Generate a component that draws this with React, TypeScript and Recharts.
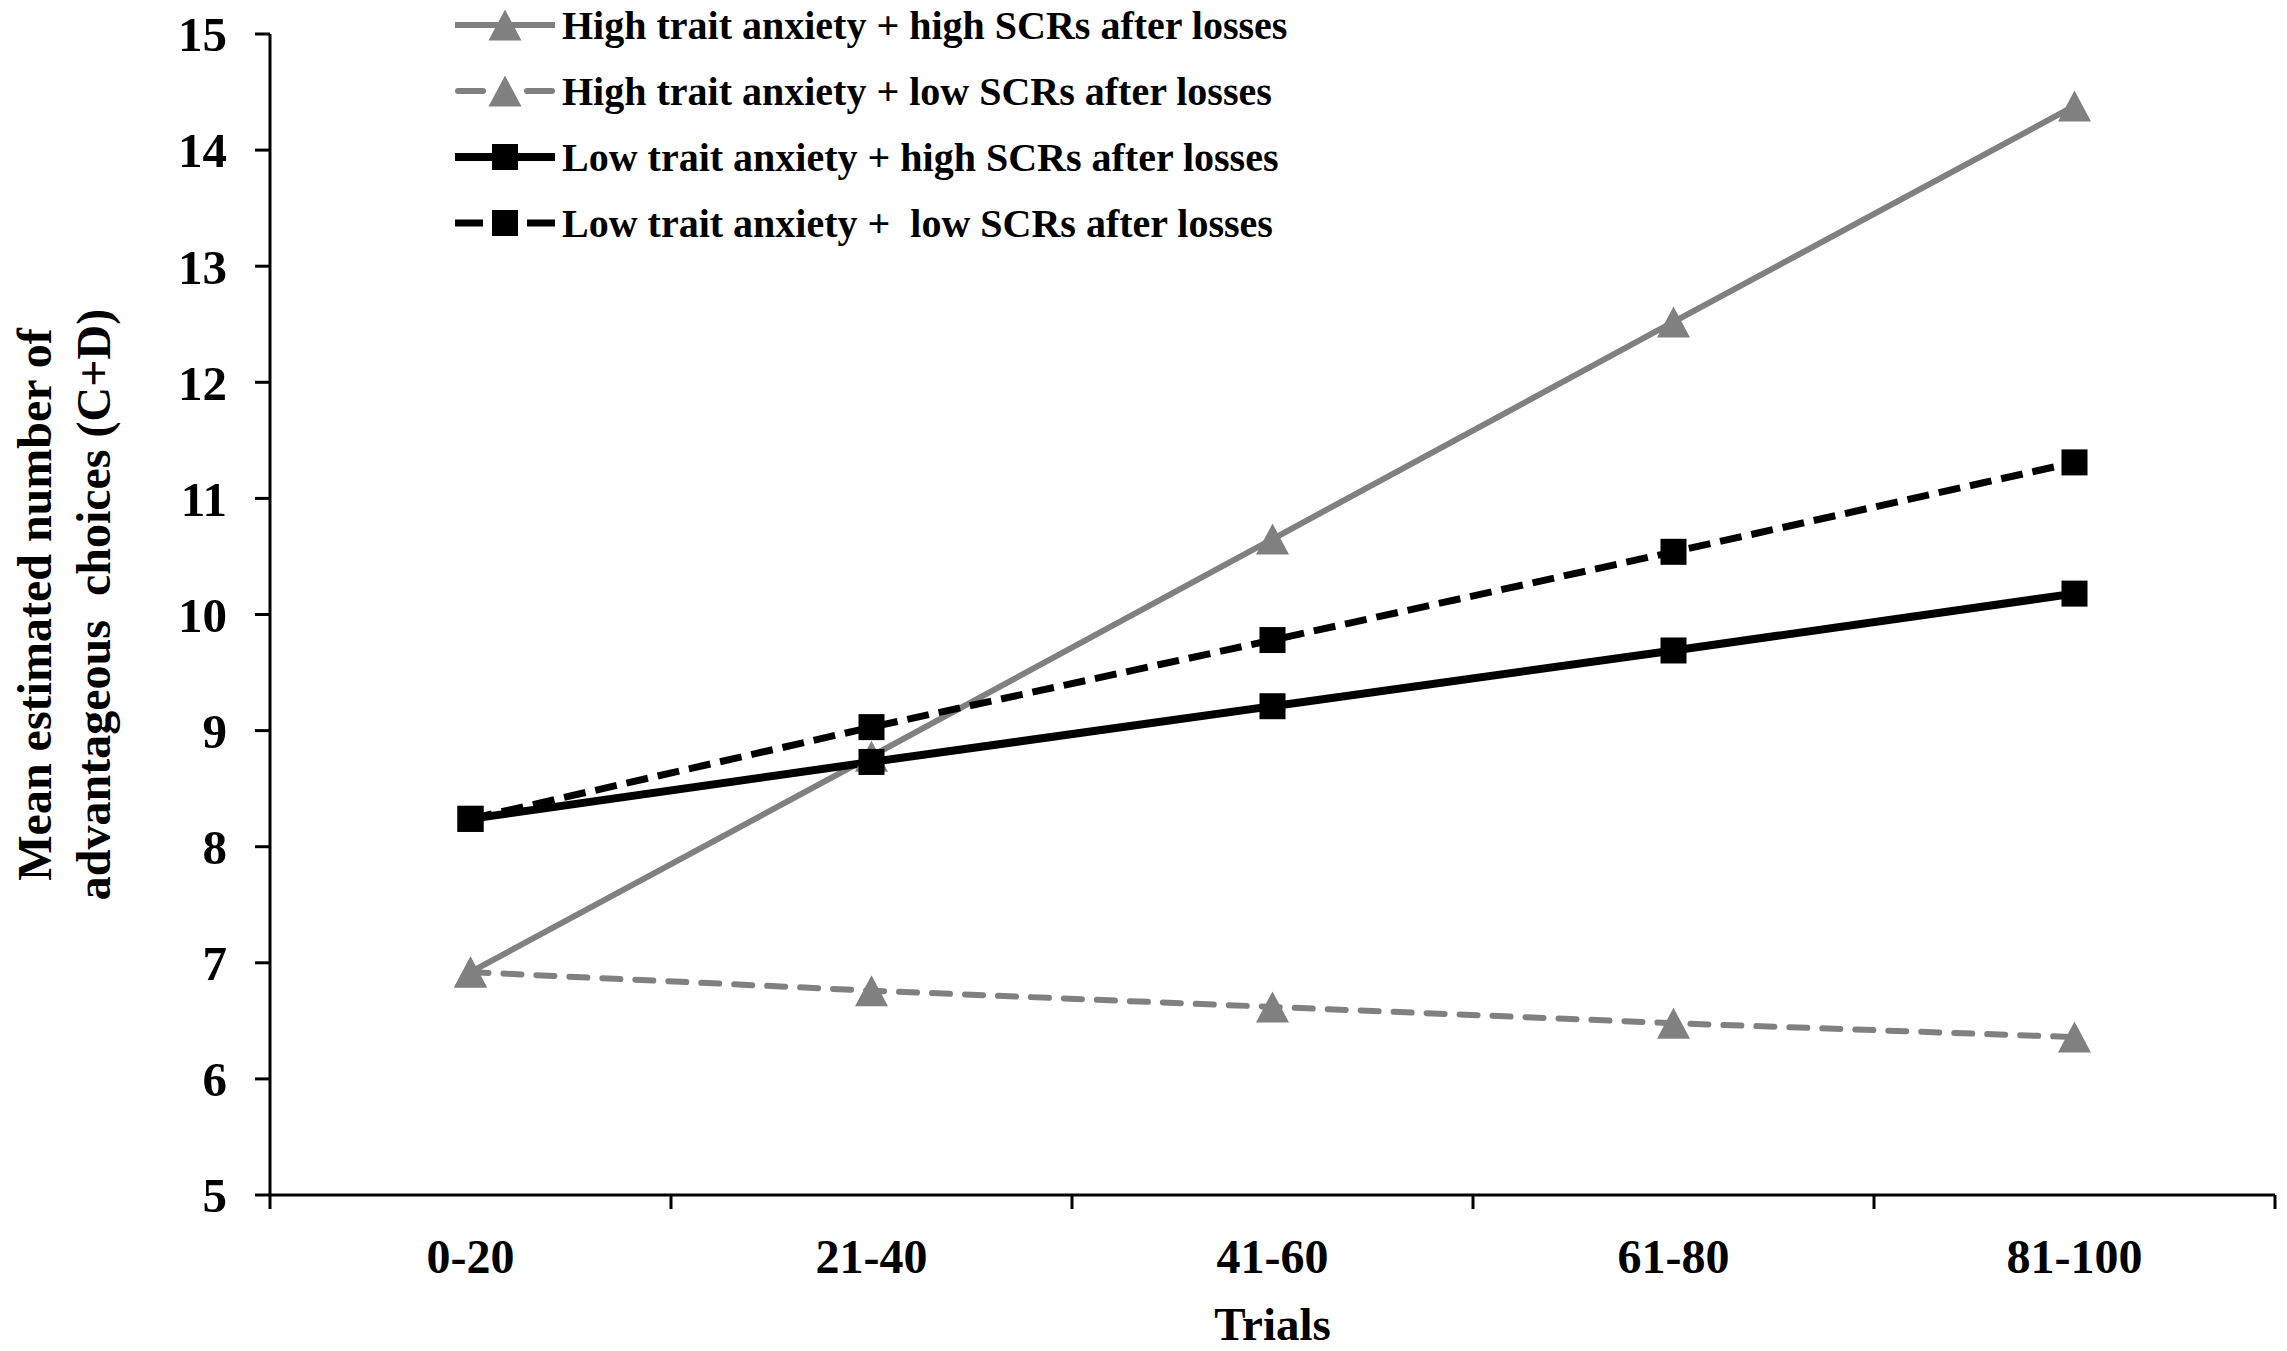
import React from "react";
import { LineChart, Line, XAxis, YAxis, Legend, Label } from "recharts";

const trials = ["0-20", "21-40", "41-60", "61-80", "81-100"];
const highAnxHighScr = [6.92, 8.78, 10.65, 12.52, 14.38];
const highAnxLowScr = [6.92, 6.76, 6.62, 6.48, 6.36];
const lowAnxHighScr = [8.24, 8.73, 9.21, 9.69, 10.18];
const lowAnxLowScr = [8.24, 9.03, 9.78, 10.54, 11.31];
const yTicks = [5, 6, 7, 8, 9, 10, 11, 12, 13, 14, 15];

const GRAY = "#808080";
const FONT = '"Liberation Serif", "Times New Roman", serif';
const X_TICK_SIZE = 14;
const X_TICK_MARGIN = 30;

const data = trials.map((t, i) => ({
  trial: t,
  hh: highAnxHighScr[i],
  hl: highAnxLowScr[i],
  lh: lowAnxHighScr[i],
  ll: lowAnxLowScr[i],
}));

type Series = {
  key: string;
  label: string;
  color: string;
  width: number;
  dash?: string;
  cap?: "butt" | "round";
  marker: "triangle" | "square";
};

const series: Series[] = [
  { key: "hh", label: "High trait anxiety + high SCRs after losses", color: GRAY, width: 6, marker: "triangle" },
  { key: "hl", label: "High trait anxiety + low SCRs after losses", color: GRAY, width: 6, dash: "18 15", cap: "round", marker: "triangle" },
  { key: "lh", label: "Low trait anxiety + high SCRs after losses", color: "#000", width: 8, marker: "square" },
  { key: "ll", label: "Low trait anxiety +  low SCRs after losses", color: "#000", width: 7, dash: "22 10", marker: "square" },
];

function marker(shape: string, cx: number, cy: number, color: string, key?: string | number) {
  if (shape === "triangle") {
    return (
      <path
        key={key}
        d={`M${cx},${cy - 15.5} L${cx + 16.5},${cy + 15.5} L${cx - 16.5},${cy + 15.5} Z`}
        fill={color}
      />
    );
  }
  return <rect key={key} x={cx - 13} y={cy - 13} width={26} height={26} fill={color} />;
}

// category label at band centre, tick marks at band edges
const TrialTick = (props: any) => {
  const { x, y, payload, index, visibleTicksCount } = props;
  const half = payload.offset || 0;
  const axisY = y - X_TICK_SIZE - X_TICK_MARGIN;
  const isLast = index === (visibleTicksCount ?? trials.length) - 1;
  return (
    <g>
      <line x1={x - half} y1={axisY} x2={x - half} y2={axisY + X_TICK_SIZE} stroke="#000" strokeWidth={3} />
      {isLast && (
        <line x1={x + half} y1={axisY} x2={x + half} y2={axisY + X_TICK_SIZE} stroke="#000" strokeWidth={3} />
      )}
      <text
        x={x}
        y={y}
        dy="0.71em"
        textAnchor="middle"
        fontSize={48}
        fontWeight={700}
        fontFamily={FONT}
        fill="#000"
      >
        {payload.value}
      </text>
    </g>
  );
};

const LegendBox = () => (
  <div style={{ fontFamily: FONT, fontWeight: 700, fontSize: 40, color: "#000" }}>
    {series.map((s) => (
      <div key={s.key} style={{ display: "flex", alignItems: "center", height: 66 }}>
        <svg width={110} height={40} style={{ display: "block" }}>
          {s.dash ? (
            <g stroke={s.color} strokeWidth={s.width} strokeLinecap={s.cap || "butt"}>
              <line x1={s.cap === "round" ? 6 : 3} y1={20} x2={31} y2={20} />
              <line x1={75} y1={20} x2={s.cap === "round" ? 100 : 103} y2={20} />
            </g>
          ) : (
            <line x1={3} y1={20} x2={103} y2={20} stroke={s.color} strokeWidth={s.width} />
          )}
          {marker(s.marker, 53, 20, s.color)}
        </svg>
        <span style={{ whiteSpace: "pre" }}>{s.label}</span>
      </div>
    ))}
  </div>
);

const YLabel = (props: any) => {
  const vb = props.viewBox || { x: 0, y: 34, width: 270, height: 1161 };
  const cy = vb.y + vb.height / 2 - 10;
  const x1 = vb.x + 34;
  const x2 = vb.x + 93;
  return (
    <g fontFamily={FONT} fontWeight={700} fontSize={48} fill="#000">
      <text x={x1} y={cy} transform={`rotate(-90 ${x1} ${cy})`} textAnchor="middle" dominantBaseline="central">
        Mean estimated number of
      </text>
      <text
        x={x2}
        y={cy}
        transform={`rotate(-90 ${x2} ${cy})`}
        textAnchor="middle"
        dominantBaseline="central"
        style={{ whiteSpace: "pre" }}
      >
        {"advantageous  choices (C+D)"}
      </text>
    </g>
  );
};

export default function App() {
  return (
    <div style={{ width: 2287, height: 1351, background: "#fff" }}>
      <style>{"body{margin:0;background:#fff}"}</style>
      <LineChart width={2287} height={1351} data={data} margin={{ top: 34, right: 12, left: 0, bottom: 0 }}>
        <XAxis
          dataKey="trial"
          scale="band"
          interval={0}
          tickLine={false}
          axisLine={{ stroke: "#000", strokeWidth: 3 }}
          tick={<TrialTick />}
          tickSize={X_TICK_SIZE}
          tickMargin={X_TICK_MARGIN}
          height={156}
        >
          <Label value="Trials" position="insideBottom" offset={11} fontSize={47} fontWeight={700} fontFamily={FONT} fill="#000" />
        </XAxis>
        <YAxis
          domain={[5, 15]}
          ticks={yTicks}
          interval={0}
          width={270}
          tickSize={15}
          tickMargin={28}
          axisLine={{ stroke: "#000", strokeWidth: 3 }}
          tickLine={{ stroke: "#000", strokeWidth: 3 }}
          tick={{ fontSize: 49, fontWeight: 700, fontFamily: FONT, fill: "#000" }}
          label={<YLabel />}
        />
        <Legend
          layout="vertical"
          align="center"
          verticalAlign="middle"
          content={<LegendBox />}
          wrapperStyle={{ left: 452, top: -8, width: "auto", height: "auto" }}
        />
        {series.map((s) => (
          <Line
            key={s.key}
            dataKey={s.key}
            name={s.label}
            type="linear"
            stroke={s.color}
            strokeWidth={s.width}
            strokeDasharray={s.dash}
            strokeLinecap={s.cap || "butt"}
            isAnimationActive={false}
            dot={(p: any) => marker(s.marker, p.cx, p.cy, s.color, `${s.key}-${p.index}`)}
            activeDot={false}
          />
        ))}
      </LineChart>
    </div>
  );
}
